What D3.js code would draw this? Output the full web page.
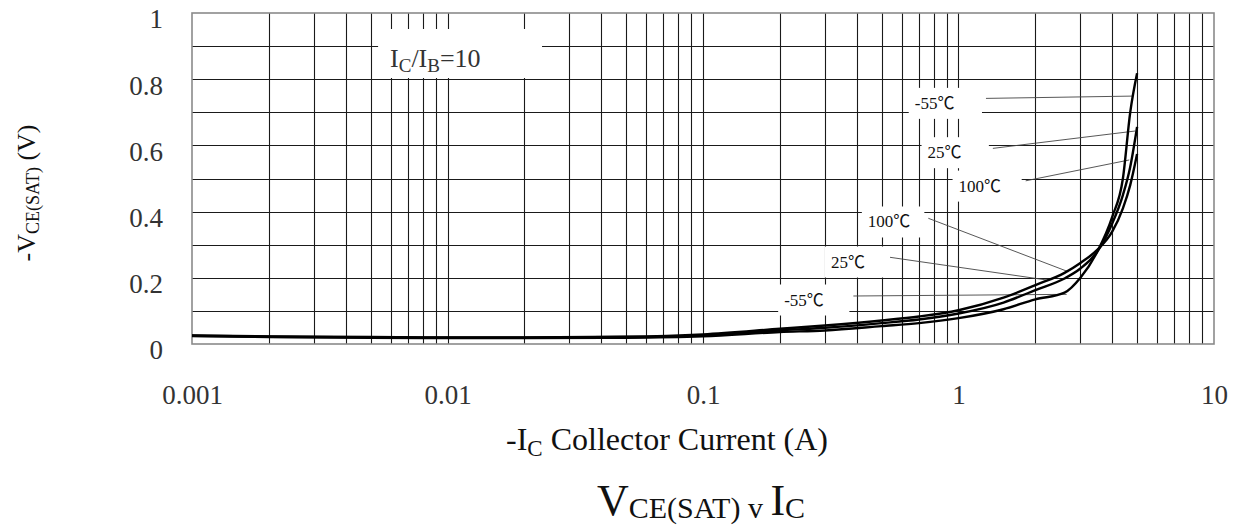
<!DOCTYPE html>
<html>
<head>
<meta charset="utf-8">
<script src="https://cdn.jsdelivr.net/npm/d3@7"></script>
<style>
  html, body { margin: 0; padding: 0; background: #fff; }
  svg { display: block; }
  text { font-family: "Liberation Serif", "Times New Roman", "Noto Sans CJK SC", serif; }
</style>
</head>
<body>
<svg id="chart" width="1240" height="526"></svg>
<script>
// ---------------- data ----------------
const currents = [0.001, 0.002, 0.005, 0.01, 0.02, 0.05, 0.1, 0.2, 0.3, 0.5, 0.7, 1, 1.5, 2, 2.6, 3, 3.5, 4, 4.4, 4.7, 5];
const vce100 = [0.026, 0.023, 0.021, 0.020, 0.020, 0.022, 0.029, 0.046, 0.056, 0.071, 0.083, 0.102, 0.140, 0.178, 0.215, 0.245, 0.285, 0.340, 0.410, 0.480, 0.574];
const vce25  = [0.025, 0.022, 0.020, 0.019, 0.019, 0.021, 0.026, 0.041, 0.049, 0.063, 0.074, 0.092, 0.125, 0.163, 0.198, 0.228, 0.280, 0.365, 0.450, 0.535, 0.656];
const vceM55 = [0.024, 0.021, 0.019, 0.018, 0.018, 0.019, 0.023, 0.036, 0.041, 0.054, 0.063, 0.078, 0.105, 0.135, 0.155, 0.200, 0.280, 0.385, 0.500, 0.700, 0.818];
const seriesNames = ["100℃", "25℃", "-55℃"];

const xTickValues = [0.001, 0.01, 0.1, 1, 10];
const xTickLabels = ["0.001", "0.01", "0.1", "1", "10"];
const yTickValues = [0, 0.2, 0.4, 0.6, 0.8, 1];
const yTickLabels = ["0", "0.2", "0.4", "0.6", "0.8", "1"];

// annotation labels (data coordinates: current A, voltage V)
const annText   = ["-55℃", "25℃", "100℃", "100℃", "25℃", "-55℃"];
const annI      = [0.806, 0.882, 1.212, 0.535, 0.3694, 0.2485];
const annV      = [0.727, 0.578, 0.477, 0.3686, 0.2477, 0.1329];
const leadI1    = [1.281, 1.363, 1.832, 0.762, 0.5394, 0.3877];
const leadV1    = [0.742, 0.591, 0.493, 0.3798, 0.2619, 0.145];
const leadI2    = [4.81, 4.914, 4.661, 2.690, 2.214, 2.651];
const leadV2    = [0.749, 0.6435, 0.556, 0.2184, 0.1934, 0.150];

// ---------------- layout ----------------
const svg = d3.select("#chart");
const L = 192, R = 1214, T = 13, B = 344;

const x = d3.scaleLog().domain([0.001, 10]).range([L, R]);
const y = d3.scaleLinear().domain([0, 1]).range([B, T]);

// grid
const minor = [];
for (let e = -3; e < 1; e++) for (let m = 1; m <= 9; m++) minor.push(m * Math.pow(10, e));
const g = svg.append("g");
g.selectAll("line.vx").data(minor.filter(d => d > 0.001 && d < 10)).join("line")
  .attr("x1", d => Math.round(x(d)) + 0.5).attr("x2", d => Math.round(x(d)) + 0.5)
  .attr("y1", T).attr("y2", B)
  .attr("stroke", "#1a1a1a").attr("stroke-width", 1.1);
g.selectAll("line.hy").data(d3.range(1, 10).map(i => i / 10)).join("line")
  .attr("x1", L).attr("x2", R)
  .attr("y1", d => Math.round(y(d)) + 0.5).attr("y2", d => Math.round(y(d)) + 0.5)
  .attr("stroke", "#1a1a1a").attr("stroke-width", 1.1);
// border
svg.append("rect").attr("x", L).attr("y", T).attr("width", R - L).attr("height", B - T)
  .attr("fill", "none").attr("stroke", "#8a8a8a").attr("stroke-width", 1.6);

// ratio label box
svg.append("rect")
  .attr("x", x(0.00535)).attr("y", y(0.9517))
  .attr("width", x(0.02344) - x(0.00535)).attr("height", y(0.8036) - y(0.9517))
  .attr("fill", "#fff");
const ratio = svg.append("text").attr("x", x(0.005957)).attr("y", y(0.838))
  .attr("font-size", 26).attr("fill", "#333");
ratio.append("tspan").text("I");
ratio.append("tspan").attr("font-size", 19).attr("dy", 5).text("C");
ratio.append("tspan").attr("dy", -5).text("/I");
ratio.append("tspan").attr("font-size", 19).attr("dy", 5).text("B");
ratio.append("tspan").attr("dy", -5).text("=10");

// annotation boxes + texts
const annG = svg.append("g");
const annTexts = annText.map((t, i) => annG.append("text")
  .attr("x", x(annI[i])).attr("y", y(annV[i]))
  .attr("text-anchor", "middle").attr("dominant-baseline", "central")
  .attr("font-size", 17).attr("fill", "#111").text(t));
annTexts.forEach((tEl, i) => {
  const bb = tEl.node().getBBox();
  const x0 = bb.x - 6, x1 = Math.max(bb.x + bb.width + 6, x(leadI1[i]) - 4);
  annG.insert("rect", "text").attr("x", x0).attr("y", bb.y - 6)
    .attr("width", x1 - x0).attr("height", bb.height + 12).attr("fill", "#fff");
});
// leader lines
svg.append("g").selectAll("line").data(annText.map((t, i) => i)).join("line")
  .attr("x1", i => x(leadI1[i])).attr("y1", i => y(leadV1[i]))
  .attr("x2", i => x(leadI2[i])).attr("y2", i => y(leadV2[i]))
  .attr("stroke", "#444").attr("stroke-width", 0.9);

// curves
const line = d3.line().x(d => x(d[0])).y(d => y(d[1])).curve(d3.curveMonotoneX);
[vce100, vce25, vceM55].forEach((vals, k) => {
  svg.append("path").datum(currents.map((c, i) => [c, vals[i]]))
    .attr("d", line).attr("fill", "none").attr("stroke", "#000")
    .attr("stroke-width", 2.4).attr("stroke-linejoin", "round")
    .attr("data-series", seriesNames[k]);
});
annG.raise();

// axes
const xAxis = d3.axisBottom(x).tickValues(xTickValues)
  .tickFormat((d, i) => xTickLabels[i]).tickSize(0).tickPadding(0);
const xa = svg.append("g").attr("transform", `translate(0,${B})`).call(xAxis);
xa.select(".domain").remove();
xa.selectAll("text").attr("font-size", 27).attr("fill", "#333")
  .attr("font-family", "Liberation Serif, serif").attr("dy", null).attr("y", 60);

const yAxis = d3.axisLeft(y).tickValues(yTickValues)
  .tickFormat((d, i) => yTickLabels[i]).tickSize(0).tickPadding(0);
const ya = svg.append("g").attr("transform", `translate(163,0)`).call(yAxis);
ya.select(".domain").remove();
ya.selectAll("text").attr("font-size", 27).attr("fill", "#333")
  .attr("font-family", "Liberation Serif, serif").attr("dy", "0.55em").attr("x", 0);

// axis titles
const xt = svg.append("text").attr("x", 667).attr("y", 450).attr("text-anchor", "middle")
  .attr("font-size", 32).attr("fill", "#111");
xt.append("tspan").text("-I");
xt.append("tspan").attr("font-size", 23).attr("dy", 6).text("C");
xt.append("tspan").attr("dy", -6).text(" Collector Current (A)");

const yt = svg.append("text").attr("transform", "translate(35,193) rotate(-90)")
  .attr("text-anchor", "middle").attr("font-size", 26).attr("fill", "#111");
yt.append("tspan").text("-V");
yt.append("tspan").attr("font-size", 18).attr("dy", 4).text("CE(SAT)");
yt.append("tspan").attr("dy", -4).text(" (V)");

// chart title
const tt = svg.append("text").attr("x", 701).attr("y", 515).attr("text-anchor", "middle")
  .attr("font-size", 44).attr("fill", "#111");
tt.append("tspan").text("V");
tt.append("tspan").attr("font-size", 30).attr("dy", 3).text("CE(SAT) v ");
tt.append("tspan").attr("dy", -3).text("I");
tt.append("tspan").attr("font-size", 30).attr("dy", 3).text("C");
</script>
</body>
</html>
